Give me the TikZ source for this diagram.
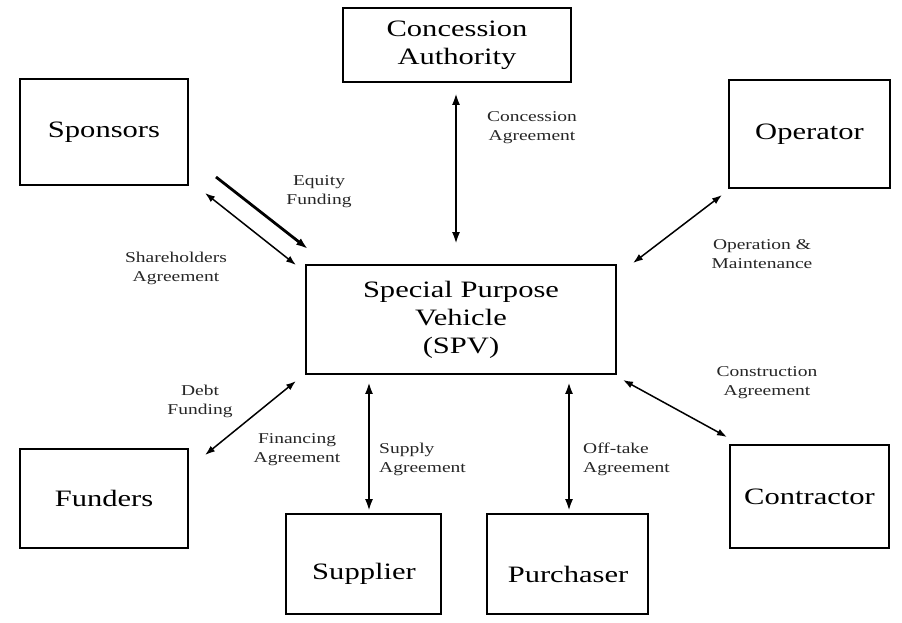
\documentclass[tikz,border=0pt]{standalone}
\usepackage{fontspec}
\setmainfont{Liberation Serif}[FakeStretch=1.3]
\usetikzlibrary{arrows.meta,calc}
\begin{document}
\begin{tikzpicture}[x=1pt,y=-1pt,
  box/.style={draw,line width=1.8pt,inner sep=0pt,align=center,font=\fontsize{23.5}{28}\selectfont,text=black},
  boxtext/.style={inner sep=0pt,align=center,font=\fontsize{23.5}{28}\selectfont,text=black},
  lab/.style={align=center,inner sep=0pt,font=\fontsize{15}{19}\selectfont,text=black!85},
  tipA/.tip={Latex[length=12pt,width=8pt]},
  tipB/.tip={Latex[length=10pt,width=7pt]},
  dblthick/.style={tipA-tipA,line width=2.8pt},
  dblthin/.style={tipB-tipB,line width=1.5pt},
  onethick/.style={-tipA,line width=2.8pt}]
\useasboundingbox (0,0) rectangle (902,622);
\fill[white] (0,0) rectangle (902,622);

% boxes
\node[box,minimum width=228pt,minimum height=74pt] (ca) at (457,45) {Concession\\Authority};
\node[box,minimum width=168pt,minimum height=106pt] (spo) at (104,132) {Sponsors};
\node[box,minimum width=161pt,minimum height=108pt] (ope) at (809.5,134) {Operator};
\node[box,minimum width=310pt,minimum height=109pt] (spv) at (461,319.5) {Special Purpose\\Vehicle\\(SPV)};
\node[box,minimum width=168pt,minimum height=99pt] (fun) at (104,498.5) {Funders};
\node[box,minimum width=155pt,minimum height=100pt] (sup) at (363.5,564) {};
\node[boxtext] (supt) at (364,574) {Supplier};
\node[box,minimum width=161pt,minimum height=100pt] (pur) at (567.5,564) {};
\node[boxtext] (purt) at (568,574) {Purchaser};
\node[box,minimum width=159pt,minimum height=103pt] (con) at (809.5,496.5) {Contractor};

% connector end points
\coordinate (eqA) at (216,177);  \coordinate (eqB) at (308,249);
\coordinate (shA) at (205,193);  \coordinate (shB) at (296,265);
\coordinate (opA) at (722,195);  \coordinate (opB) at (633,263);
\coordinate (fuA) at (205,455);  \coordinate (fuB) at (296,381);
\coordinate (coA) at (623,380);  \coordinate (coB) at (727,437);

% connectors
\draw[dblthick,shorten <=10pt,shorten >=20pt] ([xshift=-1pt]ca.south) -- ([xshift=-1pt]ca.south |- spv.north);
\draw[onethick] (eqA) -- (eqB);
\draw[dblthin] (shA) -- (shB);
\draw[dblthin] (opA) -- (opB);
\draw[dblthin] (fuA) -- (fuB);
\draw[dblthin] (coA) -- (coB);
\draw[dblthick,shorten <=7pt,shorten >=2pt] ([xshift=5.5pt]sup.north |- spv.south) -- ([xshift=5.5pt]sup.north);
\draw[dblthick,shorten <=7pt,shorten >=2pt] ([xshift=1.5pt]pur.north |- spv.south) -- ([xshift=1.5pt]pur.north);

% labels
\node[lab] (lca) at (532,128) {Concession\\Agreement};
\node[lab] (leq) at (319,192) {Equity\\Funding};
\node[lab] (lsh) at (176,268) {Shareholders\\Agreement};
\node[lab] (lop) at (762,254) {Operation \&\\Maintenance};
\node[lab] (lde) at (200,401) {Debt\\Funding};
\node[lab] (lfi) at (297,450) {Financing\\Agreement};
\node[lab,align=left,anchor=west] (lsu) at (379,459) {Supply\\Agreement};
\node[lab,align=left,anchor=west] (lof) at (583,459) {Off-take\\Agreement};
\node[lab] (lco) at (767,383) {Construction\\Agreement};
\end{tikzpicture}
\end{document}
